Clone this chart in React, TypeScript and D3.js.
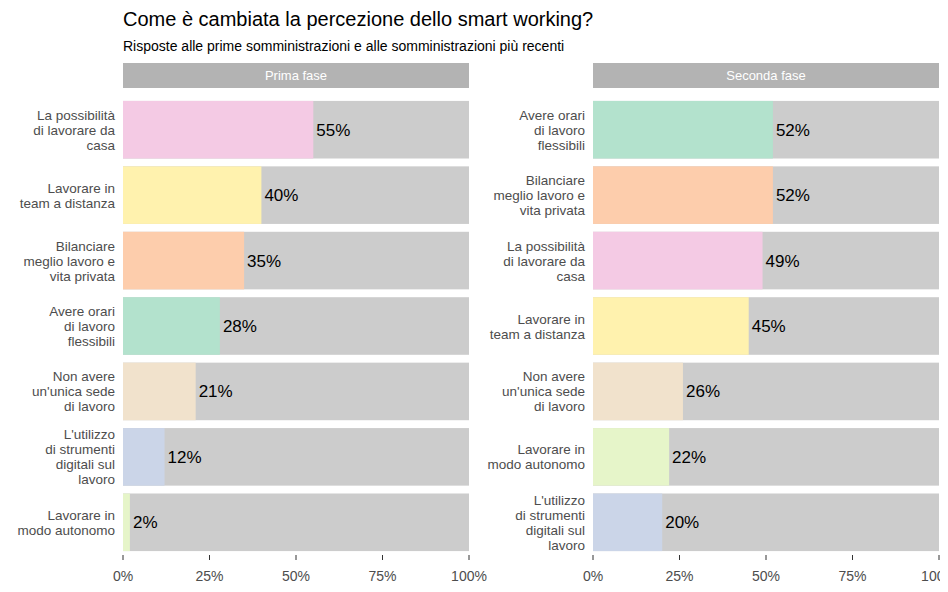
import React from "react";
import * as d3 from "d3";

const panel1Labels = [
  ["La possibilità", "di lavorare da", "casa"],
  ["Lavorare in", "team a distanza"],
  ["Bilanciare", "meglio lavoro e", "vita privata"],
  ["Avere orari", "di lavoro", "flessibili"],
  ["Non avere", "un'unica sede", "di lavoro"],
  ["L'utilizzo", "di strumenti", "digitali sul", "lavoro"],
  ["Lavorare in", "modo autonomo"],
];
const panel1Values = [55, 40, 35, 28, 21, 12, 2];
const panel1Colors = ["#f4cae4", "#fff2ae", "#fdcdac", "#b3e2cd", "#f1e2cc", "#cbd5e8", "#e6f5c9"];

const panel2Labels = [
  ["Avere orari", "di lavoro", "flessibili"],
  ["Bilanciare", "meglio lavoro e", "vita privata"],
  ["La possibilità", "di lavorare da", "casa"],
  ["Lavorare in", "team a distanza"],
  ["Non avere", "un'unica sede", "di lavoro"],
  ["Lavorare in", "modo autonomo"],
  ["L'utilizzo", "di strumenti", "digitali sul", "lavoro"],
];
const panel2Values = [52, 52, 49, 45, 26, 22, 20];
const panel2Colors = ["#b3e2cd", "#fdcdac", "#f4cae4", "#fff2ae", "#f1e2cc", "#e6f5c9", "#cbd5e8"];

const ticks = [0, 25, 50, 75, 100];

function Panel({ x0, x1, title, labels, values, colors }: any) {
  const x = d3.scaleLinear().domain([0, 100]).range([x0, x1]);
  const y = d3.scaleBand().domain(d3.range(values.length).map(String)).range([97, 555]).paddingInner(0.12).paddingOuter(0.06);
  return (
    <g>
      <rect x={x0} y={63} width={x1 - x0} height={25} fill="#b3b3b3" />
      <text x={(x0 + x1) / 2} y={80} textAnchor="middle" fill="#fff" fontSize={13}>{title}</text>
      {values.map((v: number, i: number) => {
        const yy = y(String(i))!;
        const bh = y.bandwidth();
        const ls = labels[i];
        const lh = 15;
        return (
          <g key={i}>
            <rect x={x0} y={yy} width={x1 - x0} height={bh} fill="#cccccc" />
            <rect x={x0} y={yy} width={x(v) - x0} height={bh} fill={colors[i]} />
            <text x={x(v) + 3} y={yy + bh / 2 + 6} fontSize={17} fill="#000">{v}%</text>
            {ls.map((l: string, j: number) => (
              <text key={j} x={x0 - 8} y={yy + bh / 2 - ((ls.length - 1) * lh) / 2 + j * lh + 5}
                textAnchor="end" fontSize={13.5} fill="#4d4d4d">{l}</text>
            ))}
          </g>
        );
      })}
      {ticks.map((t) => (
        <g key={t}>
          <line x1={x(t)} x2={x(t)} y1={555} y2={560} stroke="#333" />
          <text x={x(t)} y={581} textAnchor="middle" fontSize={14} fill="#4d4d4d">{t}%</text>
        </g>
      ))}
    </g>
  );
}

export default function App() {
  return (
    <svg width={940} height={592} style={{ fontFamily: "Arial, 'Liberation Sans', sans-serif", display: "block", margin: "-8px 0 0 -8px" }}>
      <rect width={940} height={592} fill="#fff" />
      <text x={123} y={26} fontSize={20} fill="#000">Come è cambiata la percezione dello smart working?</text>
      <text x={123} y={51} fontSize={14} fill="#000">Risposte alle prime somministrazioni e alle somministrazioni più recenti</text>
      <Panel x0={123} x1={469} title="Prima fase" labels={panel1Labels} values={panel1Values} colors={panel1Colors} />
      <Panel x0={593} x1={939} title="Seconda fase" labels={panel2Labels} values={panel2Values} colors={panel2Colors} />
    </svg>
  );
}
